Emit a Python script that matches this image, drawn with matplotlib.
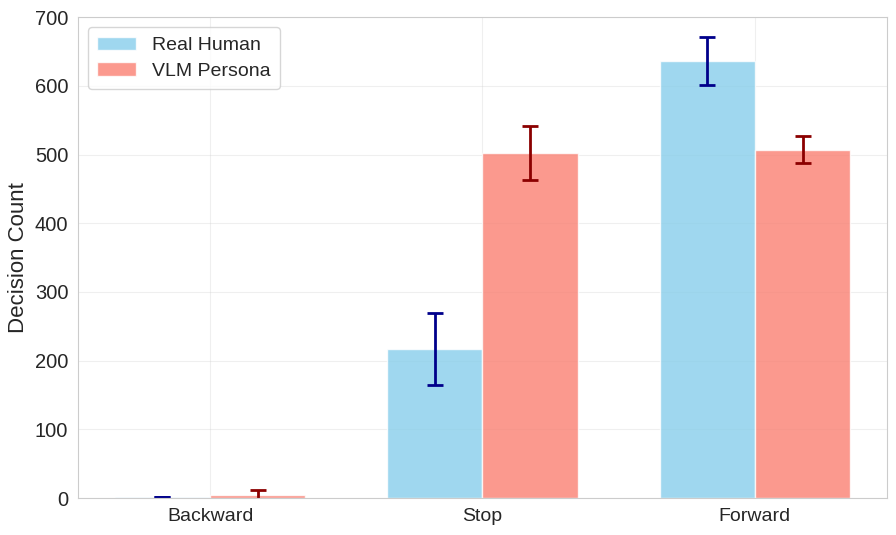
import matplotlib
matplotlib.use("Agg")
import matplotlib.pyplot as plt
import seaborn as sns
import numpy as np

sns.set_style("whitegrid")
plt.rcParams['font.family'] = ['Liberation Sans', 'DejaVu Sans']

categories = ["Backward", "Stop", "Forward"]
human_vals = [1, 217, 636]
human_err = [0, 52, 35]
vlm_vals = [5, 502, 507]
vlm_err = [7, 39, 20]

x = np.arange(len(categories))
w = 0.35

fig, ax = plt.subplots(figsize=(8.96, 5.35), dpi=100)
ax.bar(x - w/2, human_vals, w, yerr=human_err, color="skyblue", alpha=0.8,
       label="Real Human", capsize=6, error_kw=dict(ecolor="darkblue", elinewidth=2, capthick=2))
ax.bar(x + w/2, vlm_vals, w, yerr=vlm_err, color="salmon", alpha=0.8,
       label="VLM Persona", capsize=6, error_kw=dict(ecolor="darkred", elinewidth=2, capthick=2))

ax.set_ylim(0, 700)
ax.set_xticks(x)
ax.set_xticklabels(categories, fontsize=14)
ax.tick_params(axis='y', labelsize=14.5)
ax.set_ylabel("Decision Count", fontsize=16)
ax.grid(True, alpha=0.3)
for s in ax.spines.values():
    s.set_color("#cccccc")
ax.legend(fontsize=14, loc="upper left", borderpad=0.5, labelspacing=0.4)

fig.subplots_adjust(left=0.087, right=0.99, top=0.968, bottom=0.069)
fig.savefig("out.png", dpi=100)
